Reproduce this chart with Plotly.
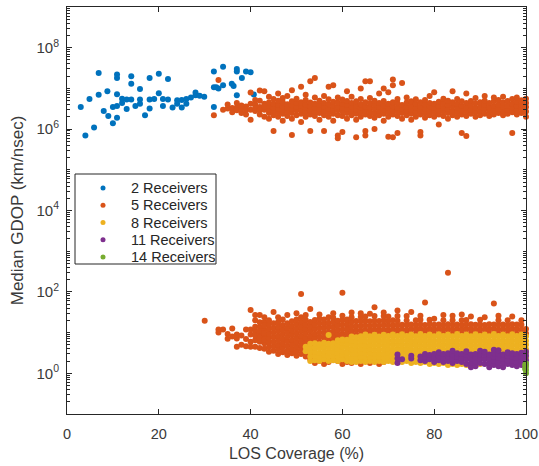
import plotly.graph_objects as go

# ---------------- data ----------------
two_cols = [3, 4, 4.9, 5.9, 6.9, 8, 8.8, 9, 10, 10.9,
            12, 13, 14, 14.9, 15.9, 17, 18, 19, 20, 20.9,
            22, 23, 24, 25, 26, 27, 28, 28.9, 29.9, 32,
            32.5, 33, 34, 35.9, 36.3, 37, 38.1, 39, 40, 40.7]
two_vals = [
    [3.5e6], [7e5], [5.5e6], [1.1e6], [2.4e7, 7e6], [2.8e6], [8.5e6], [2.1e6], [1.4e6, 3.5e6],
    [1.9e6, 2.2e7, 1.8e7, 7.2e6, 3.7e6],
    [5.6e6, 4.4e6], [3.1e6, 5.3e6], [2.0e7, 1.3e7, 5.3e6], [3.7e6], [9.6e6, 5.3e6, 4.2e6], [2.2e6],
    [3.2e6, 1.8e7, 5.3e6], [5.5e6], [2.3e7, 7.6e6], [3.7e6, 5.5e6],
    [1.7e7, 5.3e6], [3.4e6], [5.1e6, 4.2e6], [3.4e6, 5.2e6], [4.2e6, 5.5e6], [6.0e6], [7.9e6, 6.8e6],
    [6.6e6], [6.2e6], [2.6e7, 1.07e7, 3.5e6],
    [1.07e7], [1.0e7], [3.4e7, 1.2e7], [1.3e7], [1.15e7], [3.0e7, 2.6e7, 6.8e6], [1.8e7], [2.6e7],
    [2.5e7], [7.1e6],
]

five_hi_cols = [32, 33, 34, 35, 36, 37, 38, 39, 40, 41, 42, 43,
                44, 45, 46, 47, 48, 49, 50, 51, 52, 53, 54, 55, 56, 57, 58, 59, 60,
                61, 62, 63, 64, 65, 66, 67, 68, 69, 70, 71, 72, 73, 74, 75, 76, 77, 78, 79, 80,
                81, 82, 83, 84, 85, 86, 87, 88, 89, 90, 91, 92, 93, 94, 95, 96, 97, 98, 99, 100]
five_hi_vals = [
    [2.2e6], [1.6e7], [3.0e6], [3.2e6, 4.0e6], [2.6e6, 3.3e6], [3.4e6, 4.4e6, 2.9e6],
    [2.5e6, 3.2e6, 3.8e6], [3.6e6, 2.3e6, 3.0e6], [3.0e6, 1.7e6, 7.9e6, 4.2e6],
    [4.0e6, 2.8e6, 3.3e6, 5.2e6], [3.5e6, 2.3e6, 5.0e6, 3.0e6, 8.9e6], [3.0e6, 4.2e6, 8.5e6, 2.0e6, 3.6e6],
    [1.8e6, 2.5e6, 3.0e6, 3.7e6, 4.5e6, 6.2e6],
    [9.0e5, 2.2e6, 2.8e6, 3.4e6, 4.2e6, 5.5e6],
    [2.0e6, 2.6e6, 3.2e6, 4.0e6, 5.0e6, 7.5e6],
    [1.6e6, 2.4e6, 3.0e6, 3.6e6, 4.6e6, 5.8e6],
    [2.1e6, 2.7e6, 3.3e6, 4.1e6, 6.5e6],
    [7.2e5, 1.8e6, 2.5e6, 3.1e6, 3.8e6, 4.8e6, 9.0e6],
    [2.2e6, 2.9e6, 3.5e6, 4.4e6, 5.6e6],
    [1.5e6, 2.4e6, 3.0e6, 3.7e6, 4.6e6, 1.1e7],
    [2.0e6, 2.6e6, 3.3e6, 4.0e6, 5.2e6, 7.0e6],
    [9.0e5, 2.3e6, 2.9e6, 3.6e6, 4.5e6, 1.5e7],
    [2.1e6, 2.7e6, 3.4e6, 4.2e6, 6.0e6, 1.8e7],
    [1.7e6, 2.5e6, 3.1e6, 3.9e6, 5.0e6],
    [9.0e5, 2.2e6, 2.8e6, 3.5e6, 4.4e6, 6.5e6],
    [2.0e6, 2.6e6, 3.2e6, 4.1e6, 5.4e6, 1.1e7],
    [1.6e6, 2.4e6, 3.0e6, 3.7e6, 4.7e6, 1.2e7],
    [7.0e5, 6.0e5, 2.2e6, 2.9e6, 3.6e6, 4.5e6, 6.0e6],
    [8.5e5, 2.1e6, 2.7e6, 3.4e6, 4.2e6, 5.3e6],
    [1.8e6, 2.5e6, 3.1e6, 3.9e6, 4.9e6, 8.5e6],
    [2.2e6, 2.8e6, 3.5e6, 4.4e6, 6.2e6],
    [6.3e5, 1.7e6, 2.4e6, 3.0e6, 3.8e6, 4.8e6],
    [2.0e6, 2.6e6, 3.3e6, 4.1e6, 5.5e6, 1.0e7],
    [7.0e5, 9.0e5, 2.3e6, 2.9e6, 3.6e6, 4.6e6, 1.5e7],
    [2.1e6, 2.7e6, 3.4e6, 4.3e6, 5.8e6, 1.5e7],
    [1.0e6, 1.9e6, 2.5e6, 3.2e6, 4.0e6, 5.0e6],
    [2.2e6, 2.8e6, 3.5e6, 4.4e6, 7.5e6],
    [1.6e6, 2.4e6, 3.0e6, 3.8e6, 4.9e6, 1.0e7],
    [6.5e5, 2.0e6, 2.6e6, 3.3e6, 4.2e6, 8.0e6],
    [6.3e5, 2.3e6, 2.9e6, 3.6e6, 4.6e6, 1.65e7, 1.2e7],
    [8.0e5, 2.1e6, 2.7e6, 3.4e6, 4.3e6, 5.5e6],
    [1.8e6, 2.5e6, 3.1e6, 3.9e6, 1.35e7],
    [2.2e6, 2.8e6, 3.5e6, 4.5e6, 6.0e6],
    [1.7e6, 2.4e6, 3.0e6, 3.8e6, 4.8e6],
    [2.0e6, 2.6e6, 3.3e6, 4.2e6, 5.4e6],
    [7.0e5, 8.5e5, 2.3e6, 2.9e6, 3.6e6, 4.6e6],
    [1.9e6, 2.5e6, 3.2e6, 4.0e6, 5.2e6],
    [2.2e6, 2.8e6, 3.5e6, 4.4e6, 6.5e6],
    [2.0e6, 2.6e6, 3.3e6, 4.2e6, 8.0e6],
    [1.3e6, 2.3e6, 2.9e6, 3.7e6, 4.7e6],
    [2.1e6, 2.7e6, 3.4e6, 4.3e6, 5.6e6],
    [1.8e6, 2.5e6, 3.1e6, 3.9e6, 5.0e6],
    [2.2e6, 2.8e6, 3.6e6, 4.6e6, 8.5e6],
    [2.0e6, 2.6e6, 3.3e6, 4.2e6, 5.5e6],
    [8.0e5, 2.3e6, 2.9e6, 3.7e6, 4.8e6],
    [6.8e5, 2.1e6, 2.7e6, 3.4e6, 4.4e6, 7.5e6],
    [2.4e6, 3.0e6, 3.8e6, 4.9e6],
    [2.0e6, 2.6e6, 3.3e6, 4.3e6, 5.8e6],
    [2.2e6, 2.8e6, 3.6e6, 4.6e6],
    [2.4e6, 3.1e6, 3.9e6, 5.0e6, 6.5e6],
    [2.1e6, 2.7e6, 3.4e6, 4.4e6],
    [2.3e6, 2.9e6, 3.7e6, 4.8e6, 6.0e6],
    [2.5e6, 3.2e6, 4.0e6, 5.2e6],
    [2.2e6, 2.8e6, 3.5e6, 4.5e6, 6.2e6],
    [2.4e6, 3.0e6, 3.8e6, 4.9e6],
    [8.0e5, 2.6e6, 3.3e6, 4.2e6, 5.5e6],
    [2.3e6, 2.9e6, 3.7e6, 4.7e6, 6.0e6],
    [2.5e6, 3.2e6, 4.0e6, 5.1e6],
    [2.0e6, 2.7e6, 3.5e6, 4.4e6, 5.6e6],
]

five_lo_cols = [30, 33, 34, 35, 36, 37, 38, 39, 40, 41, 42, 43,
                44, 45, 46, 47, 48, 49, 50, 51, 52, 53, 54, 55, 56, 57, 58, 59, 60,
                61, 62, 63, 64, 65, 66, 67, 68, 69, 70, 71, 72, 73, 74, 75, 76, 77, 78, 79, 80,
                81, 82, 83, 84, 85, 86, 87, 88, 89, 90, 91, 92, 93, 94, 95, 96, 97, 98, 99, 100]
five_lo_vals = [
    [19.5], [12, 10], [12], [9.3, 7.1], [12.6, 8], [7.2, 4.5, 9], [5.0, 8.5], [12, 4.6, 7],
    [36, 4.5, 9, 6, 12],
    [27, 20, 11, 6.5, 4.5, 8.5, 14],
    [27, 14, 9, 6, 4.2, 11, 7.5, 18],
    [18, 12, 8, 5.5, 4, 24, 9.8, 6.8, 15],
    [3.4, 4.4, 5.7, 7.3, 9.5, 12.2, 15.8, 20],
    [3.6, 4.6, 6, 7.8, 10, 13, 17, 32],
    [3.0, 3.9, 5.0, 6.5, 8.4, 10.9, 14.1, 18.3, 24],
    [3.3, 4.3, 5.5, 7.1, 9.2, 11.9, 15.4, 21],
    [2.8, 3.6, 4.7, 6.1, 7.9, 10.2, 13.2, 17, 27],
    [3.1, 4.0, 5.2, 6.7, 8.7, 11.3, 14.6, 19],
    [2.7, 3.5, 4.5, 5.8, 7.5, 9.7, 12.6, 16.3, 21, 30],
    [3.0, 3.9, 5.0, 6.5, 8.4, 10.9, 14.1, 18.3, 24, 89],
    [2.6, 3.4, 4.4, 5.7, 7.3, 9.5, 12.3, 15.9, 20.6, 27],
    [2.2, 2.9, 3.8, 5, 6.5, 8.4, 10.9, 14.1, 18.3, 38],
    [1.8, 2.3, 5.6, 7.3, 9.4, 12.2, 15.8, 20.5],
    [2.0, 2.5, 6, 7.8, 10.1, 13.1, 17, 22, 28],
    [1.7, 2.2, 5.8, 7.5, 9.7, 12.6, 16.3, 21],
    [1.9, 2.4, 6.2, 8, 10.4, 13.5, 17.5, 24],
    [2.3, 6.4, 8.3, 10.7, 13.9, 18, 23.3, 30],
    [2.0, 2.5, 7, 9, 11.7, 15.1, 19.6],
    [1.7, 2.2, 7.2, 9.3, 12, 15.6, 20.2, 26, 95],
    [1.9, 2.4, 7.5, 9.7, 12.6, 16.3, 21],
    [1.8, 8.5, 11, 14.2, 18.4, 23.8, 31],
    [2.0, 2.5, 8.8, 11.4, 14.8, 19.2],
    [1.7, 2.2, 8.6, 11.1, 14.4, 18.7, 24.2, 30],
    [2.4, 8.9, 11.5, 14.9, 19.3, 25],
    [1.8, 2.3, 8.7, 11.3, 14.6, 18.9, 29],
    [2.0, 2.5, 9, 11.7, 15.1, 19.6, 25.4, 42],
    [1.7, 8.8, 11.4, 14.8, 19.2],
    [1.9, 2.4, 9.1, 11.8, 15.3, 19.8, 25.6, 31],
    [2.3, 8.9, 11.5, 14.9, 19.3, 25],
    [2.0, 9.2, 11.9, 15.4, 20],
    [9, 11.7, 15.1, 19.6, 25.4, 35],
    [9.3, 12, 15.6],
    [9.1, 11.8, 15.3, 19.8, 25.6],
    [9.4, 12.2, 15.8, 32],
    [9.2, 11.9, 15.4, 20],
    [9.5, 12.3, 15.9, 20.6, 26],
    [9.1, 11.8, 15.3, 55],
    [9.6, 12.4, 16.1, 20.8],
    [9.3, 12, 15.6, 22],
    [9.5, 12.3, 15.9],
    [9.2, 11.9, 15.4, 20, 27],
    [9.6, 12.4, 16.1, 295],
    [9.3, 12, 15.6, 20.2, 26],
    [9.5, 12.3, 15.9],
    [9.2, 11.9, 15.4, 20, 28],
    [9.4, 12.2, 15.8, 20.4],
    [9.6, 12.4, 16.1, 25],
    [9.3, 12, 15.6],
    [9.5, 12.3, 15.9, 20.6],
    [9.2, 11.9, 15.4, 24],
    [9.6, 12.4, 16.1],
    [9.4, 12.2, 15.8, 52],
    [9.3, 12, 15.6, 20.2, 26],
    [9.5, 12.3, 15.9],
    [9.2, 11.9, 15.4, 20],
    [9.6, 12.4, 16.1, 25],
    [9.4, 12.2, 15.8],
    [9.3, 12, 15.6, 20.2],
    [9.5, 12.3],
]

eight_cols = [52, 53, 54, 55, 56, 57, 58, 59, 60,
              61, 62, 63, 64, 65, 66, 67, 68, 69, 70, 71, 72, 73, 74, 75, 76, 77, 78, 79, 80,
              81, 82, 83, 84, 85, 86, 87, 88, 89, 90, 91, 92, 93, 94, 95, 96, 97, 98, 99, 100]
eight_vals = [
    [3.5, 4.5],
    [2.0, 2.6, 3.3, 4.2, 5.3],
    [2.1, 2.7, 3.4, 4.3, 5.5],
    [2.0, 2.5, 3.2, 4.1, 5.2],
    [2.2, 2.8, 3.5, 4.5, 5.6],
    [2.0, 2.6, 3.3, 4.2, 5.3, 8.7],
    [2.1, 2.7, 3.4, 4.3, 5.5],
    [2.0, 2.5, 3.2, 4.0, 5.1, 6.5],
    [2.2, 2.8, 3.5, 4.5, 5.7, 6.8],
    [2.0, 2.6, 3.3, 4.2, 5.3, 6.7],
    [1.9, 2.4, 3.1, 3.9, 5.0, 6.3, 8.0],
    [1.9, 2.4, 3.0, 3.8, 4.8, 6.1, 7.7],
    [2.0, 2.5, 3.2, 4.0, 5.1, 6.4, 8.1],
    [1.9, 2.4, 3.1, 3.9, 4.9, 6.2, 7.9, 9.0],
    [2.0, 2.5, 3.2, 4.0, 5.0, 6.4, 8.1],
    [1.9, 2.4, 3.0, 3.8, 4.8, 6.1, 7.7, 8.9],
    [2.0, 2.5, 3.1, 3.9, 5.0, 6.3, 8.0],
    [1.9, 2.4, 3.0, 3.8, 4.8, 6.1, 7.8, 8.8],
    [2.0, 2.5, 3.2, 4.0, 5.1, 6.4, 8.2],
    [1.9, 2.4, 3.0, 3.8, 4.9, 6.2, 7.9, 9.0],
    [2.0, 2.5, 3.2, 4.0, 5.1, 6.4, 8.2],
    [1.9, 2.4, 3.1, 3.9, 4.9, 6.2, 7.9, 9.1],
    [2.0, 2.5, 3.2, 4.0, 5.1, 6.5, 8.3],
    [1.8, 2.3, 3.0, 3.8, 4.8, 6.1, 7.8, 9.0],
    [1.9, 2.4, 3.1, 3.9, 5.0, 6.3, 8.1],
    [1.8, 2.3, 3.0, 3.8, 4.8, 6.1, 7.8, 9.2],
    [1.9, 2.5, 3.1, 4.0, 5.0, 6.4, 8.2],
    [1.7, 2.3, 3.0, 3.8, 4.8, 6.1, 7.8, 9.0],
    [1.8, 2.4, 3.1, 3.9, 5.0, 6.3, 8.1],
    [1.7, 2.3, 3.0, 3.8, 4.8, 6.2, 7.9, 9.1],
    [1.8, 2.4, 3.1, 3.9, 5.0, 6.4, 8.2],
    [1.6, 2.3, 3.0, 3.8, 4.8, 6.1, 7.8, 9.0],
    [1.7, 2.4, 3.1, 3.9, 5.0, 6.3, 8.1],
    [1.6, 2.3, 3.0, 3.8, 4.8, 6.2, 7.9, 9.2],
    [1.7, 2.4, 3.1, 3.9, 5.0, 6.4, 8.2],
    [1.6, 2.3, 3.0, 3.8, 4.8, 6.1, 7.8, 9.0],
    [1.7, 2.4, 3.1, 3.9, 5.0, 6.3, 8.1],
    [1.6, 2.3, 3.0, 3.8, 4.8, 6.2, 7.9, 9.1],
    [1.7, 2.4, 3.1, 3.9, 5.0, 6.4, 8.2],
    [2.3, 3.0, 3.8, 4.8, 6.1, 7.8, 9.0],
    [2.4, 3.1, 3.9, 5.0, 6.3, 8.1],
    [2.3, 3.0, 3.8, 4.8, 6.2, 7.9, 9.2],
    [2.4, 3.1, 3.9, 5.0, 6.4, 8.2],
    [2.3, 3.0, 3.8, 4.8, 6.1, 7.8, 9.0],
    [2.4, 3.1, 3.9, 5.0, 6.3, 8.1],
    [2.3, 3.0, 3.8, 4.8, 6.2, 7.9, 9.1],
    [2.4, 3.1, 3.9, 5.0, 6.4, 8.2],
    [2.3, 3.0, 3.8, 4.8, 6.1, 7.8, 9.0],
    [2.4, 3.1, 3.9, 5.0, 6.3, 8.1],
]

eleven_cols = [72, 73, 75, 77, 78, 79, 80, 81, 82, 83, 84, 85, 86, 87, 88, 89, 90,
               91, 92, 93, 94, 95, 96, 97, 98, 99, 100]
eleven_vals = [
    [1.8, 2.3, 2.9], [2.2], [2.3, 2.7], [2.1, 2.6], [2.0, 2.5, 3.0], [2.2, 2.8],
    [1.9, 2.4, 3.0], [2.1, 2.6, 3.3], [1.9, 2.4, 3.0], [2.0, 2.5, 3.1], [1.8, 2.3, 2.9, 3.6],
    [2.0, 2.5, 3.1], [1.9, 2.4, 3.0], [1.7, 2.2, 2.8, 3.5], [1.4, 1.8, 2.3, 2.9],
    [1.5, 1.9, 2.4, 3.0], [1.8, 2.3, 2.9, 3.6], [1.7, 2.2, 2.8, 3.4], [1.4, 1.8, 2.3, 2.9],
    [1.6, 2.0, 2.5, 3.1, 3.8], [1.5, 1.9, 2.4, 3.0, 3.7], [1.4, 1.8, 2.3, 2.9],
    [1.7, 2.1, 2.7, 3.3], [1.6, 2.0, 2.5, 3.1], [1.5, 1.9, 2.4, 3.0], [1.6, 2.0, 2.5, 3.2],
    [1.7, 2.1, 2.7, 3.4],
]

fourteen_cols = [99.8, 100]
fourteen_vals = [[1.3, 1.6], [1.0, 1.2, 1.45, 1.75]]

series_names = ["2 Receivers", "5 Receivers", "8 Receivers", "11 Receivers", "14 Receivers"]
series_colors = ["#0072BD", "#D95319", "#EDB120", "#7E2F8E", "#77AC30"]

y_tick_vals = [1, 1e2, 1e4, 1e6, 1e8]
y_tick_text = ["10<sup>0</sup>", "10<sup>2</sup>", "10<sup>4</sup>", "10<sup>6</sup>", "10<sup>8</sup>"]
x_tick_vals = [0, 20, 40, 60, 80, 100]


def flatten(cols_list, vals_list):
    xs, ys = [], []
    for cols, vals in zip(cols_list, vals_list):
        for c, vs in zip(cols, vals):
            for v in vs:
                xs.append(c)
                ys.append(v)
    return xs, ys


groups = [
    flatten([two_cols], [two_vals]),
    flatten([five_hi_cols, five_lo_cols], [five_hi_vals, five_lo_vals]),
    flatten([eight_cols], [eight_vals]),
    flatten([eleven_cols], [eleven_vals]),
    flatten([fourteen_cols], [fourteen_vals]),
]

FONT = "Liberation Sans, Arial, Helvetica, sans-serif"
AX = "#262626"
TXT = "#3a3a3a"

# plot-area geometry in pixels (for the MATLAB-style legend box)
W, H = 539, 466
L, R, T, B = 67, 13, 7, 52
PW, PH = W - L - R, H - T - B


def px_x(px):
    return (px - L) / PW


def px_y(py):
    return (H - B - py) / PH


fig = go.Figure()
for (xs, ys), name, col in zip(groups, series_names, series_colors):
    fig.add_trace(go.Scatter(
        x=xs, y=ys, mode="markers", name=name,
        marker=dict(size=6, color=col, line=dict(width=0)),
        cliponaxis=False, showlegend=False,
    ))

# legend (box + dots + labels), laid out like MATLAB's
leg_left, leg_right, leg_top, leg_bottom = 75, 216, 174, 264
leg_rows = [188, 205.3, 222.5, 239.8, 257]
shapes = [dict(type="rect", xref="paper", yref="paper",
               x0=px_x(leg_left), x1=px_x(leg_right), y0=px_y(leg_bottom), y1=px_y(leg_top),
               line=dict(color=AX, width=1), fillcolor="white", layer="above")]
annotations = []
for row, name, col in zip(leg_rows, series_names, series_colors):
    shapes.append(dict(type="circle", xref="paper", yref="paper",
                       xsizemode="pixel", ysizemode="pixel",
                       xanchor=px_x(103), yanchor=px_y(row),
                       x0=-2.5, x1=2.5, y0=-2.5, y1=2.5,
                       fillcolor=col, line=dict(width=0), layer="above"))
    annotations.append(dict(xref="paper", yref="paper", x=px_x(129), y=px_y(row),
                            xanchor="left", yanchor="middle", showarrow=False,
                            text=name, font=dict(family=FONT, size=14.5, color=AX)))

minor_vals = [m * 10 ** k for k in range(-1, 9) for m in range(1, 10)
              if not (m == 1 and k in (0, 2, 4, 6, 8))]

fig.update_layout(
    width=W, height=H,
    margin=dict(l=L, r=R, t=T, b=B),
    paper_bgcolor="white", plot_bgcolor="white",
    font=dict(family=FONT, size=13, color=AX),
    showlegend=False,
    shapes=shapes,
    annotations=annotations,
    xaxis=dict(
        range=[0, 100], tickvals=x_tick_vals, automargin=False,
        ticks="inside", ticklen=5, tickcolor=AX,
        showline=True, linecolor=AX, linewidth=1, mirror="ticks",
        showgrid=False, zeroline=False,
        tickfont=dict(family=FONT, size=14.5, color=TXT),
        ticklabelstandoff=7,
        title=dict(text="LOS Coverage (%)", font=dict(family=FONT, size=16, color=TXT), standoff=6),
    ),
    yaxis=dict(
        type="log", range=[-1, 9], automargin=False,
        tickvals=y_tick_vals, ticktext=y_tick_text,
        ticks="inside", ticklen=5, tickcolor=AX,
        showline=True, linecolor=AX, linewidth=1, mirror="ticks",
        showgrid=False, zeroline=False,
        tickfont=dict(family=FONT, size=15, color=TXT),
        ticklabelstandoff=4,
        minor=dict(tickvals=minor_vals, ticks="inside", ticklen=3, tickcolor=AX, showgrid=False),
        title=dict(text="Median GDOP (km/nsec)", font=dict(family=FONT, size=17, color=TXT), standoff=8),
    ),
)

fig.write_html("out.html")
